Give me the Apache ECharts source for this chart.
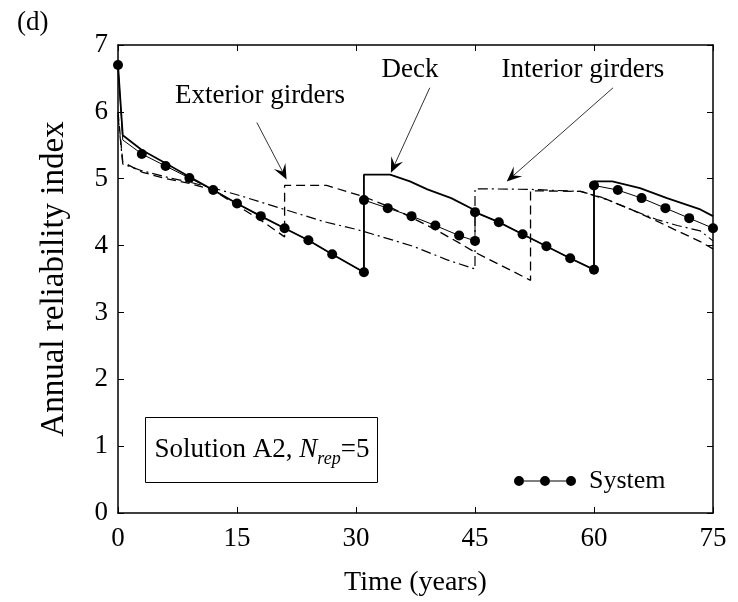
<!DOCTYPE html>
<html>
<head>
<meta charset="utf-8">
<script src="https://cdn.jsdelivr.net/npm/echarts@6/dist/echarts.min.js"></script>
<style>
  html, body { margin: 0; padding: 0; background: #fff; }
  #chart { width: 738px; height: 602px; }
</style>
</head>
<body>
<div id="chart"></div>
<script>
// Annual reliability index of the bridge and its components, solution A2 (N_rep = 5)
const xTicks = [0, 15, 30, 45, 60, 75];
const yTicks = [0, 1, 2, 3, 4, 5, 6, 7];

// Deck (solid line)
const deckYears = [0, 0.6, 3, 6, 9, 12, 15, 18, 21, 24, 27, 31, 31, 34.3, 36.8, 39, 42, 44.8, 45, 48, 51, 54, 57, 60, 60, 62.3, 65.8, 69.2, 73.4, 75];
const deckBeta  = [6.7, 5.65, 5.43, 5.23, 5.03, 4.83, 4.63, 4.44, 4.26, 4.08, 3.87, 3.60, 5.06, 5.06, 4.96, 4.84, 4.71, 4.54, 4.50, 4.35, 4.17, 3.99, 3.81, 3.64, 4.96, 4.96, 4.86, 4.71, 4.54, 4.44];

// Exterior girders (dashed line)
const extYears = [0, 0.6, 3, 6, 9, 12, 15, 18, 21, 21, 26.3, 31, 34, 37, 40, 43, 45, 52, 52, 58.3, 61.6, 64.5, 67.5, 70.5, 73.4, 75];
const extBeta  = [6.0, 5.25, 5.10, 5.00, 4.93, 4.83, 4.60, 4.38, 4.13, 4.90, 4.90, 4.73, 4.59, 4.42, 4.24, 4.04, 3.90, 3.48, 4.82, 4.81, 4.69, 4.55, 4.39, 4.22, 4.06, 3.95];

// Interior girders (dash-dot line)
const intYears = [0, 0.6, 3, 6.6, 9, 12, 15, 18, 21, 25.9, 30.1, 33, 37.2, 41.4, 45, 45, 52, 58.3, 61, 64.2, 67.9, 70.5, 73.4, 75];
const intBeta  = [5.95, 5.22, 5.12, 5.01, 4.95, 4.86, 4.76, 4.65, 4.54, 4.36, 4.24, 4.14, 3.99, 3.79, 3.65, 4.85, 4.84, 4.81, 4.72, 4.56, 4.39, 4.30, 4.22, 4.07];

// System (solid line with markers); the knee right after t = 0 carries no marker
const sysYears = [0, 0.6, 3, 6, 9, 12, 15, 18, 21, 24, 27, 31, 31, 34, 37, 40, 43, 45, 45, 48, 51, 54, 57, 60, 60, 63, 66, 69, 72, 75];
const sysBeta  = [6.7, 5.58, 5.37, 5.19, 5.01, 4.83, 4.63, 4.44, 4.26, 4.08, 3.87, 3.60, 4.68, 4.56, 4.44, 4.30, 4.15, 4.07, 4.50, 4.35, 4.17, 3.99, 3.81, 3.64, 4.90, 4.83, 4.71, 4.56, 4.41, 4.26];
const sysNoMarker = [1];

// Callouts: label text, label centre, arrow start and arrow tip (data coordinates)
const noteText = ['Exterior girders', 'Deck', 'Interior girders'];
const noteAt   = [[17.9, 6.24], [36.8, 6.63], [58.6, 6.63]];
const noteFrom = [[17.5, 5.84], [39.3, 6.36], [62.4, 6.36]];
const noteTo   = [[21.25, 4.99], [34.4, 5.09], [49.0, 4.96]];

const FONT = "'Liberation Serif', 'Times New Roman', serif";

const pairs = (xs, ys) => xs.map((x, i) => [x, ys[i]]);

const chart = echarts.init(document.getElementById('chart'), null, { renderer: 'canvas' });

const axisCommon = {
  axisLine: { show: true, onZero: false, lineStyle: { color: '#000', width: 1.5 } },
  axisTick: { show: true, inside: true, length: 6, lineStyle: { color: '#000', width: 1 } },
  splitLine: { show: false }
};

chart.setOption({
  animation: false,
  backgroundColor: '#fff',
  title: {
    text: '(d)', left: 12, top: 4,
    textStyle: { fontFamily: FONT, fontSize: 27, fontWeight: 'normal', color: '#000' }
  },
  grid: { left: 118, right: 25, top: 45, bottom: 89 },
  xAxis: [
    Object.assign({
      type: 'value', position: 'bottom', min: 0, max: 75, interval: 15,
      name: 'Time (years)', nameLocation: 'middle', nameGap: 56,
      nameTextStyle: { fontFamily: FONT, fontSize: 28, color: '#000' },
      axisLabel: {
        fontFamily: FONT, fontSize: 27, color: '#000', margin: 12,
        customValues: xTicks
      }
    }, axisCommon),
    Object.assign({
      type: 'value', position: 'top', min: 0, max: 75, interval: 15,
      axisLabel: { show: false }
    }, axisCommon)
  ],
  yAxis: [
    Object.assign({
      type: 'value', position: 'left', min: 0, max: 7, interval: 1,
      name: 'Annual reliability index', nameLocation: 'middle', nameGap: 47,
      nameTextStyle: { fontFamily: FONT, fontSize: 33, color: '#000' },
      axisLabel: {
        fontFamily: FONT, fontSize: 27, color: '#000', margin: 10,
        customValues: yTicks
      }
    }, axisCommon),
    Object.assign({
      type: 'value', position: 'right', min: 0, max: 7, interval: 1,
      axisLabel: { show: false }
    }, axisCommon)
  ],
  legend: {
    data: ['System'],
    left: 509, top: 463,
    itemWidth: 62, itemHeight: 10, itemGap: 0,
    icon: 'path://M0,5a5,5 0 1,0 10,0a5,5 0 1,0 -10,0Z' +
          'M26,5a5,5 0 1,0 10,0a5,5 0 1,0 -10,0Z' +
          'M52,5a5,5 0 1,0 10,0a5,5 0 1,0 -10,0Z' +
          'M10,4.4L26,4.4L26,5.6L10,5.6Z' +
          'M36,4.4L52,4.4L52,5.6L36,5.6Z',
    textStyle: { fontFamily: FONT, fontSize: 26, color: '#000', padding: [0, 0, 0, 8] },
    itemStyle: { color: '#000' }
  },
  series: [
    {
      name: 'Exterior girders', type: 'line', showSymbol: false,
      data: pairs(extYears, extBeta),
      lineStyle: { color: '#000', width: 1.3, type: [9, 5] },
      z: 2
    },
    {
      name: 'Interior girders', type: 'line', showSymbol: false,
      data: pairs(intYears, intBeta),
      lineStyle: { color: '#000', width: 1.2, type: [10, 4, 2, 4] },
      z: 2
    },
    {
      name: 'Deck', type: 'line', showSymbol: false,
      data: pairs(deckYears, deckBeta),
      lineStyle: { color: '#000', width: 1.8 },
      z: 3
    },
    {
      name: 'System', type: 'line',
      symbol: 'circle', symbolSize: 10, showAllSymbol: true,
      data: sysYears.map((x, i) => sysNoMarker.includes(i)
        ? { value: [x, sysBeta[i]], symbol: 'none' }
        : [x, sysBeta[i]]),
      itemStyle: { color: '#000' },
      lineStyle: { color: '#000', width: 1 },
      z: 4
    }
  ]
});

// Callout labels, arrows and the solution box
function drawNotes() {
  const toPx = p => chart.convertToPixel({ xAxisIndex: 0, yAxisIndex: 0 }, p);
  const elements = [];
  noteText.forEach((txt, i) => {
    const c = toPx(noteAt[i]);
    elements.push({
      type: 'text', x: c[0], y: c[1], silent: true,
      style: { text: txt, fontFamily: FONT, fontSize: 27, fill: '#000', align: 'center', verticalAlign: 'middle' }
    });
    const a = toPx(noteFrom[i]);
    const b = toPx(noteTo[i]);
    const dx = b[0] - a[0], dy = b[1] - a[1];
    const len = Math.hypot(dx, dy);
    const ux = dx / len, uy = dy / len, nx = -uy, ny = ux;
    const L = 15, W = 6.5;
    elements.push({
      type: 'line', silent: true,
      shape: { x1: a[0], y1: a[1], x2: b[0] - ux * L * 0.6, y2: b[1] - uy * L * 0.6 },
      style: { stroke: '#000', lineWidth: 0.8 }
    });
    elements.push({
      type: 'polygon', silent: true,
      shape: { points: [
        [b[0], b[1]],
        [b[0] - ux * L + nx * W, b[1] - uy * L + ny * W],
        [b[0] - ux * L * 0.6, b[1] - uy * L * 0.6],
        [b[0] - ux * L - nx * W, b[1] - uy * L - ny * W]
      ] },
      style: { fill: '#000' }
    });
  });
  elements.push({
    type: 'rect', left: 145, top: 417, silent: true,
    shape: { width: 232, height: 65 },
    style: { fill: '#fff', stroke: '#000', lineWidth: 1 }
  });
  elements.push({
    type: 'text', x: 262, y: 450, silent: true,
    style: {
      text: '{a|Solution A2, }{n|N}{s|rep}{a|=5}',
      align: 'center', verticalAlign: 'middle',
      rich: {
        a: { fontFamily: FONT, fontSize: 27, fill: '#000', lineHeight: 36 },
        n: { fontFamily: FONT, fontSize: 27, fontStyle: 'italic', fill: '#000', lineHeight: 36 },
        s: { fontFamily: FONT, fontSize: 18, fontStyle: 'italic', fill: '#000', lineHeight: 18, verticalAlign: 'bottom' }
      }
    }
  });
  chart.setOption({ graphic: elements });
}
drawNotes();
</script>
</body>
</html>
